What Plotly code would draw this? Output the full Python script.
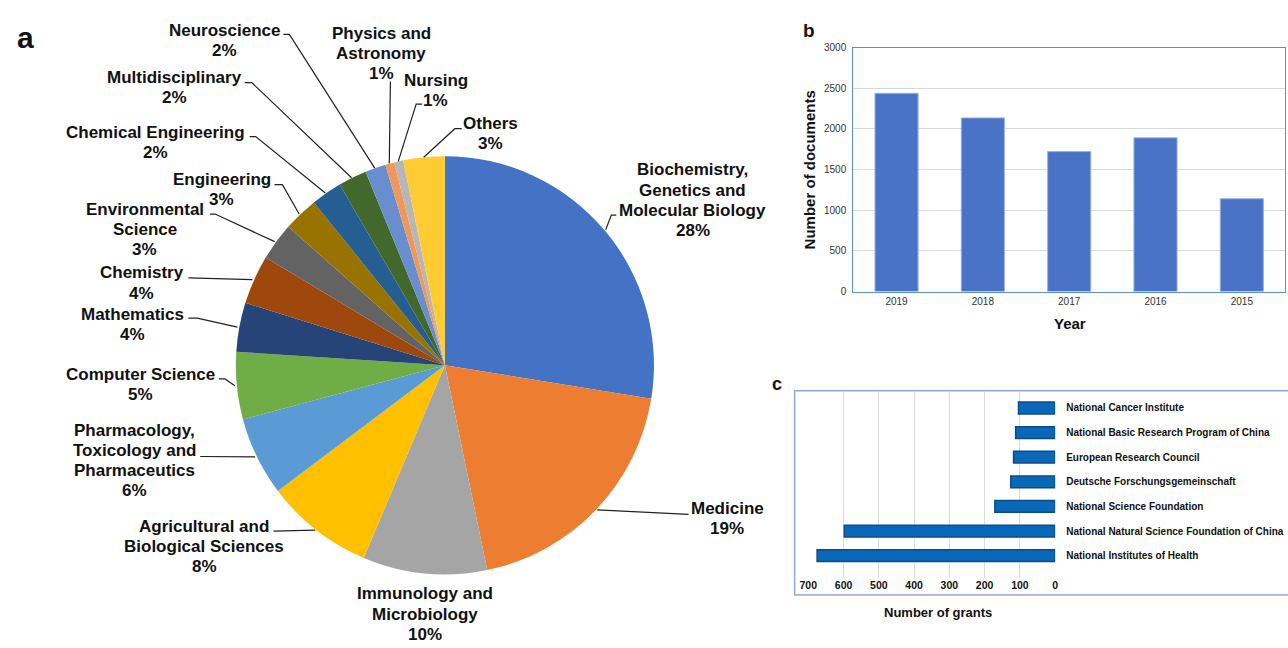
import math
import plotly.graph_objects as go

# ---------------- data ----------------
subject_areas = [
    "Biochemistry, Genetics and Molecular Biology", "Medicine",
    "Immunology and Microbiology", "Agricultural and Biological Sciences",
    "Pharmacology, Toxicology and Pharmaceutics", "Computer Science",
    "Mathematics", "Chemistry", "Environmental Science", "Engineering",
    "Chemical Engineering", "Multidisciplinary", "Neuroscience",
    "Physics and Astronomy", "Nursing", "Others",
]
subject_share = [27.6, 19.2, 9.6, 8.4, 6.1, 5.2, 3.8, 3.8, 2.9, 2.7,
                 2.4, 2.2, 1.6, 0.7, 0.7, 3.2]

years = ["2019", "2018", "2017", "2016", "2015"]
documents = [2437, 2135, 1721, 1890, 1142]

funders = [
    "National Institutes of Health",
    "National Natural Science Foundation of China",
    "National Science Foundation",
    "Deutsche Forschungsgemeinschaft",
    "European Research Council",
    "National Basic Research Program of China",
    "National Cancer Institute",
]
grants = [675, 598, 171, 126, 118, 112, 104]

# ---------------- styles / layout ----------------
W, H = 1288, 648
FONT = "Liberation Sans, Arial, sans-serif"

pie_colors = ["#4472C4", "#ED7D31", "#A5A5A5", "#FFC000", "#5B9BD5", "#70AD47",
              "#264478", "#9E480E", "#636363", "#997300", "#255E91", "#43682B",
              "#698ED0", "#F1975A", "#B7B7B7", "#FFCD33"]

# wrapped display text for each pie label
label_wrap = [
    ["Biochemistry,", "Genetics and", "Molecular Biology"], ["Medicine"],
    ["Immunology and", "Microbiology"], ["Agricultural and", "Biological Sciences"],
    ["Pharmacology,", "Toxicology and", "Pharmaceutics"], ["Computer Science"],
    ["Mathematics"], ["Chemistry"], ["Environmental", "Science"], ["Engineering"],
    ["Chemical Engineering"], ["Multidisciplinary"], ["Neuroscience"],
    ["Physics and", "Astronomy"], ["Nursing"], ["Others"],
]
# centre of the first text line of each label (pixels)
label_first = [(690, 167), (725, 512), (420, 599), (197, 530), (127, 432),
               (133, 375), (125, 314), (134, 272), (137, 207), (215, 177),
               (148, 129), (167, 73), (218, 25), (376, 28), (431, 76), (486, 120)]
LINE_STEP = 20.5
# leader-line points near the text (pixels); the pie end is computed
leader_pts = [
    [(613, 213), (608, 213)], [(686, 518)], None, [(267, 535)], [(193, 459)],
    [(212, 380), (218, 380)], [(181, 318), (190, 318)], [(181, 277)],
    [(203, 212), (208, 212)], [(268, 182), (276, 182)], [(243, 133), (249, 133)],
    [(238, 78), (245, 78)], [(277, 29), (283, 29)], [(385, 77)],
    [(417, 100), (411, 100)], [(457, 125), (450, 125)],
]

PIE_CX, PIE_CY, PIE_R = 440, 366, 213


def fx(x):
    return x / W


def fy(y):
    return 1 - y / H


fig = go.Figure()

# ---------------- panel a: pie ----------------
fig.add_trace(go.Pie(
    labels=subject_areas, values=subject_share, sort=False,
    direction="clockwise", rotation=0, textinfo="none",
    marker=dict(colors=pie_colors, line=dict(width=0)),
    domain=dict(x=[fx(PIE_CX - PIE_R), fx(PIE_CX + PIE_R)],
                y=[fy(PIE_CY + PIE_R), fy(PIE_CY - PIE_R)]),
    showlegend=False, hoverinfo="label+percent",
))

total = sum(subject_share)
annotations = []
shapes = []
cum = 0.0
for i, (name, v) in enumerate(zip(subject_areas, subject_share)):
    mid = (cum + v / 2) / total * 2 * math.pi
    cum += v
    ex = PIE_CX + PIE_R * math.sin(mid)
    ey = PIE_CY - PIE_R * math.cos(mid)
    pct = round(v / total * 100)
    cx, cy = label_first[i]
    lines = label_wrap[i] + [f"{pct}%"]
    for k, ln in enumerate(lines):
        annotations.append(dict(
            text=ln, x=fx(cx), y=fy(cy + k * LINE_STEP),
            xref="paper", yref="paper", showarrow=False,
            xanchor="center", yanchor="middle",
            font=dict(family=FONT, size=17, color="#111111", weight="bold")))
    if leader_pts[i]:
        pts = leader_pts[i] + [(ex, ey)]
        path = "M " + " L ".join(f"{fx(p[0]):.5f},{fy(p[1]):.5f}" for p in pts)
        shapes.append(dict(type="path", path=path, xref="paper", yref="paper",
                           line=dict(color="#222222", width=1.2)))

# ---------------- panel b: bars ----------------
fig.add_trace(go.Bar(
    x=years, y=documents, xaxis="x2", yaxis="y2",
    marker=dict(color="#4a73c7", line=dict(color="#9db3e0", width=1)),
    showlegend=False,
))

# ---------------- panel c: horizontal bars ----------------
fig.add_trace(go.Bar(
    x=grants, y=funders, orientation="h", xaxis="x3", yaxis="y3",
    marker=dict(color="#0a68b8", line=dict(color="#0b4c88", width=1.5)),
    showlegend=False, width=0.48,
))

# panel letters and axis titles
texts = [
    ("a", 17, 32, 30, 0), ("b", 808, 25, 19, 0), ("c", 775, 385, 18, 0),
    ("Number of documents", 808, 167, 15, -90), ("Year", 1071, 323, 15, 0),
    ("Number of grants", 938, 618, 13, 0),
]
for t, x, y, s, ang in texts:
    annotations.append(dict(text=t, x=fx(x), y=fy(y), xref="paper", yref="paper",
                            showarrow=False, xanchor="center", yanchor="middle",
                            textangle=ang,
                            font=dict(family=FONT, size=s, color="#111111",
                                      weight="bold")))

# frame of panel c
shapes.append(dict(type="rect", xref="paper", yref="paper",
                   x0=fx(793), x1=fx(1300), y0=fy(600), y1=fy(392),
                   line=dict(color="#8eaadb", width=1.5), layer="below"))

fig.update_layout(
    width=W, height=H, autosize=False,
    margin=dict(l=0, r=0, t=0, b=0),
    paper_bgcolor="white", plot_bgcolor="white",
    annotations=annotations, shapes=shapes,
    bargap=0.5,
    xaxis2=dict(domain=[fx(852.3), 1.0], anchor="y2", range=[-0.5, 4.5],
                showline=True, mirror=True, linecolor="#5b8ee0", linewidth=1.3,
                ticks="", showgrid=False,
                tickfont=dict(family=FONT, size=10, color="#333333")),
    yaxis2=dict(domain=[fy(291), fy(42.3)], anchor="x2", range=[0, 3000],
                dtick=500, showline=True, mirror=True, linecolor="#5b8ee0",
                linewidth=1.3, gridcolor="#d9d9d9", zeroline=False, ticks="",
                ticklabelstandoff=4,
                tickfont=dict(family=FONT, size=10, color="#333333")),
    xaxis3=dict(domain=[fx(806.8), fx(1056)], anchor="y3", range=[700, 0],
                tickvals=[700, 600, 500, 400, 300, 200, 100, 0],
                showline=False, zeroline=False, gridcolor="#dcdcdc", ticks="",
                tickfont=dict(family=FONT, size=10.5, color="#111111",
                              weight="bold")),
    yaxis3=dict(domain=[fy(582.6), fy(392)], anchor="x3", side="right",
                range=[-0.9, 6.7], type="category", categoryorder="array",
                categoryarray=funders, showgrid=False, showline=False,
                zeroline=False, ticks="", ticklabelstandoff=10,
                automargin=False,
                tickfont=dict(family=FONT, size=10, color="#111111",
                              weight="bold")),
)

fig.write_html("out.html",
               config={"displayModeBar": False},
               post_script="document.body.style.margin='0';"
                           "document.body.style.overflow='hidden';")
